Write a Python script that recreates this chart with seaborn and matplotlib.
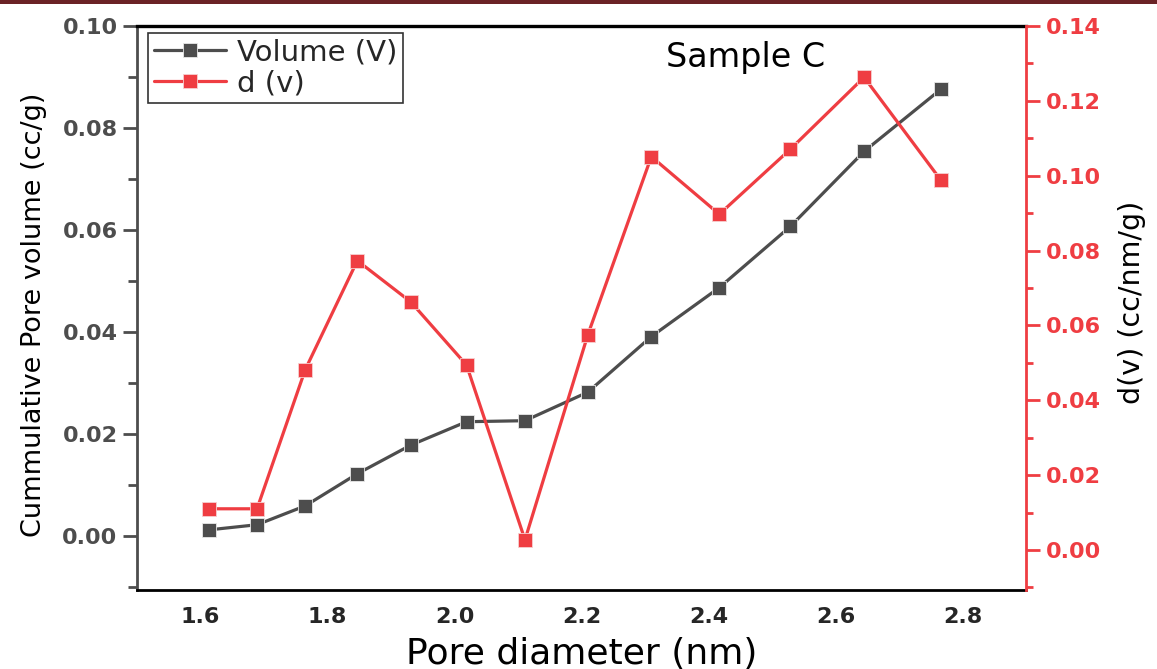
import matplotlib
matplotlib.use("Agg")
import matplotlib.pyplot as plt
from matplotlib.ticker import MultipleLocator, FormatStrFormatter
from matplotlib.patches import Rectangle
import seaborn as sns
import pandas as pd

# ---- data ----
pore_diameter = [1.614, 1.689, 1.765, 1.847, 1.931, 2.019, 2.111, 2.210,
                 2.310, 2.417, 2.529, 2.645, 2.766]
volume_V = [0.0012, 0.0022, 0.0059, 0.0122, 0.0178, 0.0224, 0.0226, 0.0282,
            0.0391, 0.0487, 0.0607, 0.0754, 0.0876]
d_v = [0.0110, 0.0110, 0.0482, 0.0773, 0.0663, 0.0494, 0.0027, 0.0575,
       0.1051, 0.0897, 0.1071, 0.1263, 0.0988]
x_ticks = [1.6, 1.8, 2.0, 2.2, 2.4, 2.6, 2.8]
left_ticks = [0.00, 0.02, 0.04, 0.06, 0.08, 0.10]
right_ticks = [0.00, 0.02, 0.04, 0.06, 0.08, 0.10, 0.12, 0.14]

df = pd.DataFrame({"x": pore_diameter, "V": volume_V, "d": d_v})

GREY = "#4d4d4d"
RED = "#ef3d42"

sns.set_style("white")
plt.rcParams["font.family"] = ["DejaVu Sans"]

fig = plt.figure(figsize=(11.57, 6.69), dpi=100)
ax = fig.add_axes([137/1157, 1-590/669, (1026-137)/1157, (590-26)/669])
ax2 = ax.twinx()

sns.lineplot(data=df, x="x", y="V", ax=ax, color=GREY, marker="s",
             markersize=10, linewidth=2.3, markeredgecolor="#e8e8e8",
             markeredgewidth=0.6, label="Volume (V)", legend=False)
sns.lineplot(data=df, x="x", y="d", ax=ax2, color=RED, marker="s",
             markersize=10, linewidth=2.3, markeredgecolor="#f6d0d0",
             markeredgewidth=0.6, label="d (v)", legend=False)

ax.set_xlim(1.5, 2.9)
ax.set_ylim(-0.0106, 0.10)
ax2.set_ylim(-0.0107, 0.14)

ax.set_xticks(x_ticks)
ax.xaxis.set_minor_locator(MultipleLocator(0.1))
ax.xaxis.set_major_formatter(FormatStrFormatter("%.1f"))
ax.set_yticks(left_ticks)
ax.yaxis.set_minor_locator(MultipleLocator(0.01))
ax.yaxis.set_major_formatter(FormatStrFormatter("%.2f"))
ax2.set_yticks(right_ticks)
ax2.yaxis.set_minor_locator(MultipleLocator(0.01))
ax2.yaxis.set_major_formatter(FormatStrFormatter("%.2f"))

# spines
for s in ax.spines.values():
    s.set_linewidth(2.0)
ax.spines["top"].set_color("black")
ax.spines["top"].set_linewidth(2.4)
ax.spines["bottom"].set_color("black")
ax.spines["left"].set_color(GREY)
ax.spines["right"].set_visible(False)
for k in ["top", "bottom", "left"]:
    ax2.spines[k].set_visible(False)
ax2.spines["right"].set_color(RED)
ax2.spines["right"].set_linewidth(2.0)

# ticks
ax.tick_params(axis="x", which="major", direction="out", length=9, width=2,
               color="black", labelsize=16, pad=3, top=False)
ax.tick_params(axis="x", which="minor", direction="out", length=4, width=2,
               color="black", top=False)
ax.tick_params(axis="y", which="major", direction="out", length=10, width=2,
               color=GREY, labelcolor=GREY, labelsize=16, pad=4, right=False)
ax.tick_params(axis="y", which="minor", direction="out", length=6.5, width=2,
               color=GREY, right=False)
ax2.tick_params(axis="y", which="major", direction="out", length=10, width=2,
                color=RED, labelcolor=RED, labelsize=16, pad=4)
ax2.tick_params(axis="y", which="minor", direction="out", length=5, width=2,
                color=RED)
for lab in ax.get_xticklabels() + ax.get_yticklabels() + ax2.get_yticklabels():
    lab.set_fontweight("bold")

# labels
ax.set_xlabel("Pore diameter (nm)", fontsize=26, color="black")
ax.xaxis.set_label_coords(0.5, -0.083)
ax.set_ylabel("Cummulative Pore volume (cc/g)", fontsize=19.5, color="black")
ax.yaxis.set_label_coords(-0.101, 0.488)
ax2.set_ylabel("d(v) (cc/nm/g)", fontsize=20.5, color="black")
ax2.yaxis.set_label_coords(1.1035, 0.51)

ax.text(0.685, 0.945, "Sample C", transform=ax.transAxes, fontsize=24,
        ha="center", va="center", color="black")

# legend
h1 = ax.get_lines()[0]
h2 = ax2.get_lines()[0]
leg = ax.legend([h1, h2], ["Volume (V)", "d (v)"], loc="upper left",
                bbox_to_anchor=(0.012, 0.988), fontsize=21, frameon=True,
                fancybox=False, shadow=False, handlelength=2.5,
                handletextpad=0.35, borderpad=0.2, labelspacing=0.1,
                borderaxespad=0.0)
leg.get_frame().set_edgecolor("black")
leg.get_frame().set_linewidth(1.2)
leg.set_zorder(5)

# dark band at top of the page
fig.add_artist(Rectangle((0, 1 - 4/669), 1, 4/669, transform=fig.transFigure,
                         facecolor="#6b2226", edgecolor="none"))

fig.savefig("out.png", dpi=100)
